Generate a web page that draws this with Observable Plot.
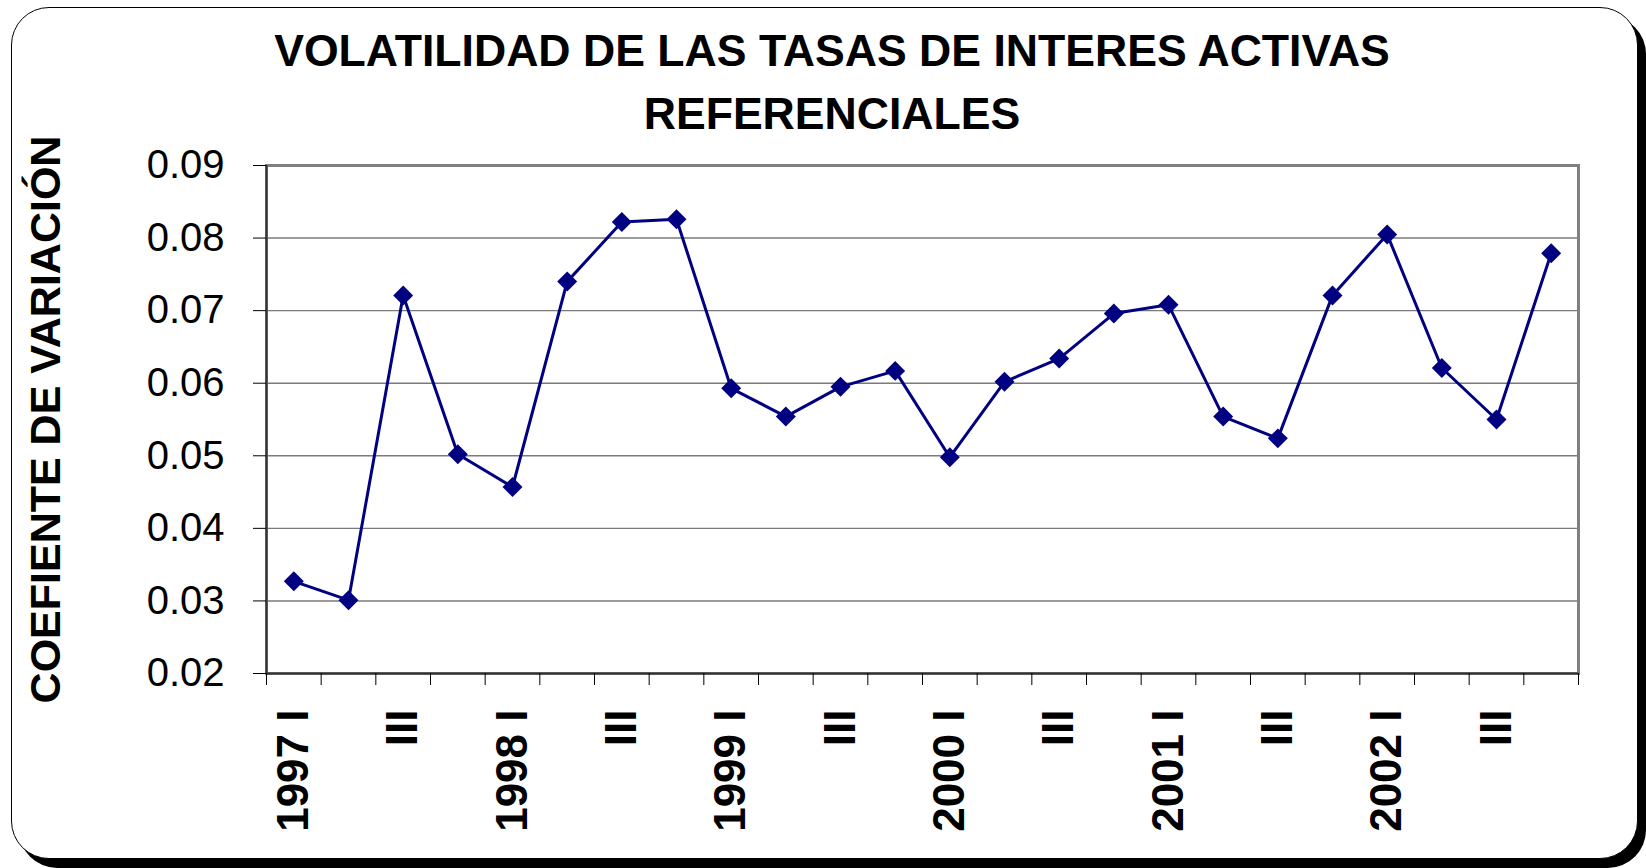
<!DOCTYPE html>
<html>
<head>
<meta charset="utf-8">
<script src="https://cdn.jsdelivr.net/npm/d3@7"></script>
<script src="https://cdn.jsdelivr.net/npm/@observablehq/plot@0.6"></script>
<style>
  html, body { margin: 0; padding: 0; background: #fff; }
  #wrap { position: relative; width: 1646px; height: 868px; overflow: hidden; font-family: "Liberation Sans", Arial, sans-serif; }
  #frame { position: absolute; left: 11px; top: 7px; width: 1625px; height: 850px; border: 1.5px solid #000; border-radius: 38px; box-shadow: 8px 9px 0 0 #000; background: #fff; }
  #title { position: absolute; left: 0; top: 19px; width: 1664px; text-align: center; font-weight: bold; font-size: 44.6px; line-height: 63px; color: #000; }
  #chart { position: absolute; left: 0; top: 140px; }
  #chart svg { overflow: visible; }
  g[aria-label="y-axis tick label"] text { font-size: 40px; fill: #000; }
  g[aria-label="x-axis tick label"] text { font-size: 44px; font-weight: bold; fill: #000; }
</style>
</head>
<body>
<div id="wrap">
  <div id="frame"></div>
  <div id="title">VOLATILIDAD DE LAS TASAS DE INTERES ACTIVAS<br>REFERENCIALES</div>
  <div id="chart"></div>
</div>
<script>
const categories = [
  "1997 I","1997 II","1997 III","1997 IV",
  "1998 I","1998 II","1998 III","1998 IV",
  "1999 I","1999 II","1999 III","1999 IV",
  "2000 I","2000 II","2000 III","2000 IV",
  "2001 I","2001 II","2001 III","2001 IV",
  "2002 I","2002 II","2002 III","2002 IV"
];
const values = [
  0.0327, 0.0301, 0.0721, 0.0502,
  0.0457, 0.0740, 0.0822, 0.0826,
  0.0593, 0.0554, 0.0595, 0.0617,
  0.0498, 0.0602, 0.0634, 0.0696,
  0.0708, 0.0554, 0.0524, 0.0721,
  0.0805, 0.0621, 0.0550, 0.0779
];
const tickLabels = [
  "1997 I","","III","",
  "1998 I","","III","",
  "1999 I","","III","",
  "2000 I","","III","",
  "2001 I","","III","",
  "2002 I","","III",""
];
const yTicks = [0.02, 0.03, 0.04, 0.05, 0.06, 0.07, 0.08, 0.09];
const yLabel = "COEFIENTE DE VARIACIÓN";

const data = categories.map((c, i) => ({i, c, v: values[i]}));
const n = categories.length;

const chart = Plot.plot({
  width: 1646,
  height: 728,
  marginTop: 25,
  marginBottom: 195,
  marginLeft: 266,
  marginRight: 68,
  style: {fontFamily: "'Liberation Sans', Arial, sans-serif", background: "transparent", color: "#000"},
  x: {domain: [0, n], axis: null},
  y: {domain: [0.02, 0.09], axis: null},
  marks: [
    Plot.ruleY(yTicks, {stroke: "#7a7a7a", strokeWidth: 1.4}),
    Plot.frame({stroke: "#808080", strokeWidth: 3}),
    Plot.ruleX([0], {stroke: "#333", strokeWidth: 2}),
    Plot.ruleY([0.02], {stroke: "#333", strokeWidth: 2}),
    Plot.axisY({
      ticks: yTicks, tickFormat: d3.format(".2f"), tickSize: 13, tickPadding: 29,
      stroke: "#000", label: null
    }),
    Plot.text([yLabel], {
      frameAnchor: "left", rotate: -90, dx: -237, lineAnchor: "top", textAnchor: "middle",
      fontSize: 43, fontWeight: "bold", fill: "#000"
    }),
    Plot.axisX({
      ticks: d3.range(0, n + 1), tickFormat: () => "", tickSize: 12, stroke: "#000", label: null
    }),
    Plot.axisX({
      ticks: d3.range(0, n).map(i => i + 0.5), tickFormat: d => tickLabels[Math.floor(d)],
      tickSize: 0, tickPadding: 36, tickRotate: -90, label: null
    }),
    Plot.line(data, {x: d => d.i + 0.5, y: "v", stroke: "#000080", strokeWidth: 3}),
    Plot.dot(data, {x: d => d.i + 0.5, y: "v", symbol: "diamond2", r: 9, fill: "#000080", stroke: "none"})
  ]
});
document.getElementById("chart").appendChild(chart);
</script>
</body>
</html>
